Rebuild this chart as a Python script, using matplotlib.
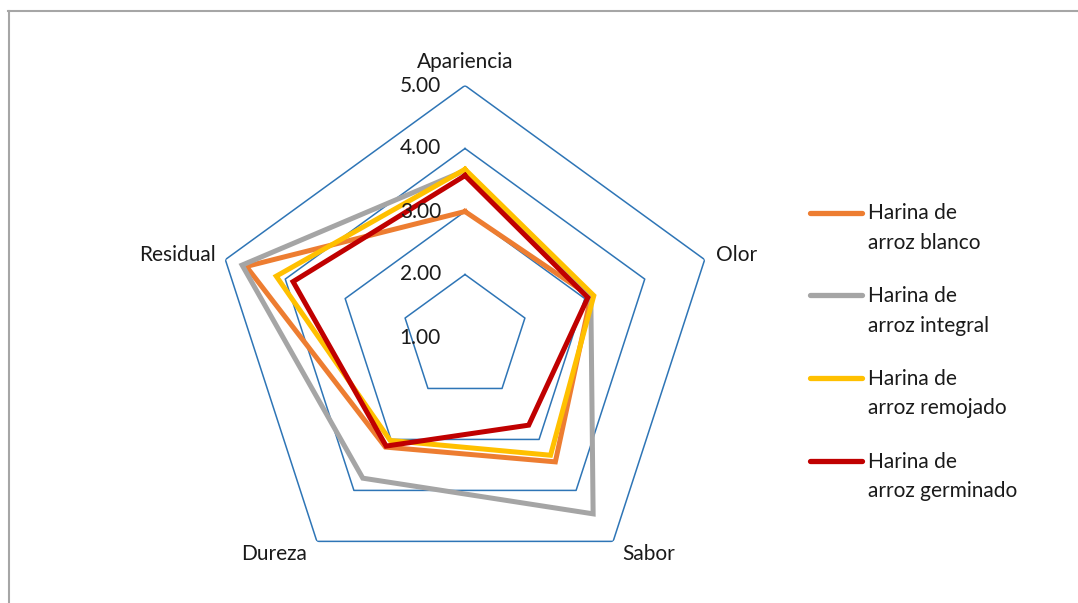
import numpy as np
import matplotlib
matplotlib.use('Agg')
import matplotlib.pyplot as plt
from matplotlib.lines import Line2D
from matplotlib.legend_handler import HandlerLine2D

plt.rcParams['font.family'] = ['Lato', 'DejaVu Sans']

categories = ['Apariencia', 'Olor', 'Sabor', 'Dureza', 'Residual']
series_names = ['Harina de\narroz blanco', 'Harina de\narroz integral',
                'Harina de\narroz remojado', 'Harina de\narroz germinado']
blanco = [3.00, 3.10, 3.44, 3.15, 4.65]
integral = [3.65, 3.10, 4.46, 3.76, 4.72]
remojado = [3.67, 3.15, 3.31, 3.02, 4.15]
germinado = [3.57, 3.05, 2.72, 3.13, 3.87]
levels = [1.0, 2.0, 3.0, 4.0, 5.0]

colors = ['#ED7D31', '#A5A5A5', '#FFC000', '#C00000']
grid_color = '#2E75B6'
FS = 15


class TopLineHandler(HandlerLine2D):
    # put the legend line next to the first text line
    def create_artists(self, legend, orig_handle, xdescent, ydescent,
                       width, height, fontsize, trans):
        return super().create_artists(legend, orig_handle, xdescent,
                                      ydescent - 23, width, height,
                                      fontsize, trans)


fig = plt.figure(figsize=(10.78, 6.03), dpi=100)
ax = fig.add_axes([213 / 1078, 13.5 / 603, 504 / 1078, 504 / 603], polar=True)
ax.set_theta_zero_location('N')
ax.set_theta_direction(-1)
ax.set_ylim(1, 5)
ax.grid(False)
ax.spines['polar'].set_visible(False)
ax.set_xticks([])
ax.set_yticks([])

n = len(categories)
theta = np.arange(n) * 2 * np.pi / n
theta_closed = np.append(theta, theta[0])

# pentagon gridlines
for lv in levels[1:]:
    ax.plot(theta_closed, [lv] * (n + 1), color=grid_color, lw=1.1, zorder=1)

# radial value labels
for lv in levels:
    ax.annotate(f'{lv:.2f}', xy=(0, lv), xytext=(-24, 0), textcoords='offset pixels',
                ha='right', va='center', fontsize=FS, color='#1a1a1a', zorder=6)

# category labels
label_pos = [
    (5.38, 'center', 'center'),
    (5.13, 'left', 'center'),
    (5.2, 'left', 'center'),
    (5.2, 'right', 'center'),
    (5.13, 'right', 'center'),
]
label_offsets = [(0, 0), (4, 2), (2, -2), (-2, -2), (-2, 2)]
for t, cat, (r, ha, va), off in zip(theta, categories, label_pos, label_offsets):
    ax.annotate(cat, xy=(t, r), xytext=off, textcoords='offset pixels',
                ha=ha, va=va, fontsize=FS, color='#1a1a1a', annotation_clip=False)

all_series = [blanco, integral, remojado, germinado]
for vals, col, name in zip(all_series, colors, series_names):
    ax.plot(theta_closed, vals + vals[:1], color=col, lw=3.6, label=name,
            solid_joinstyle='miter', zorder=3)

handles = [Line2D([], [], color=c, lw=3.8, solid_capstyle='round') for c in colors]
leg = fig.legend(handles, series_names, loc='upper left',
                 bbox_to_anchor=(810 / 1078, 1 - 203 / 603), frameon=False,
                 fontsize=FS, handlelength=2.5, handletextpad=0.3,
                 labelspacing=1.6, borderpad=0, borderaxespad=0,
                 handler_map={Line2D: TopLineHandler()})
for txt in leg.get_texts():
    txt.set_linespacing(1.6)
    txt.set_color('#1a1a1a')

# chart area border (top and left edges visible)
fig.add_artist(Line2D([8 / 1078, 1], [1 - 11 / 603, 1 - 11 / 603],
                      transform=fig.transFigure, color='#A6A6A6', lw=1.5))
fig.add_artist(Line2D([8.5 / 1078, 8.5 / 1078], [0, 1 - 11 / 603],
                      transform=fig.transFigure, color='#A6A6A6', lw=1.5))

fig.savefig('out.png', dpi=100)
